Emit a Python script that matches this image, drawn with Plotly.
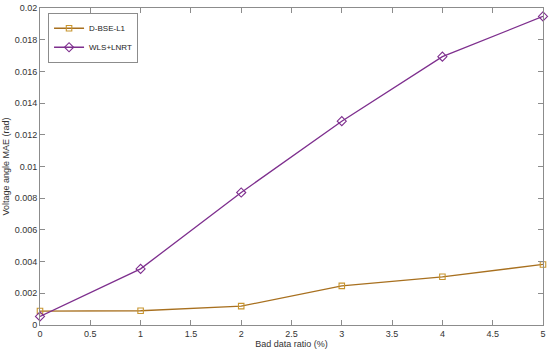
import plotly.graph_objects as go

x_vals = [0, 1, 2, 3, 4, 5]
dbse_l1 = [0.00088, 0.00090, 0.00119, 0.00247, 0.00304, 0.00382]
wls_lnrt = [0.00054, 0.00354, 0.00836, 0.01286, 0.01693, 0.01947]
x_ticks = [0, 0.5, 1, 1.5, 2, 2.5, 3, 3.5, 4, 4.5, 5]
x_tick_labels = ["0", "0.5", "1", "1.5", "2", "2.5", "3", "3.5", "4", "4.5", "5"]
y_ticks = [0, 0.002, 0.004, 0.006, 0.008, 0.01, 0.012, 0.014, 0.016, 0.018, 0.02]
y_tick_labels = ["0", "0.002", "0.004", "0.006", "0.008", "0.01", "0.012", "0.014", "0.016", "0.018", "0.02"]

fig = go.Figure()
fig.add_trace(go.Scatter(
    x=x_vals, y=dbse_l1, name="D-BSE-L1", mode="lines+markers",
    line=dict(color="#A8701F", width=1.3),
    marker=dict(symbol="square-open", size=5.5, color="#C8952E", line=dict(width=1.1)),
    cliponaxis=False,
))
fig.add_trace(go.Scatter(
    x=x_vals, y=wls_lnrt, name="WLS+LNRT", mode="lines+markers",
    line=dict(color="#7E2F8E", width=1.3),
    marker=dict(symbol="diamond-open", size=7, color="#7E2F8E", line=dict(width=1.1)),
    cliponaxis=False,
))

axis_common = dict(
    showline=True, linecolor="#8c8c8c", linewidth=1, mirror="ticks",
    ticks="inside", ticklen=5, tickcolor="#8c8c8c", tickwidth=1,
    showgrid=False, zeroline=False, automargin=False,
    tickfont=dict(family="Liberation Sans, Arial", size=9, color="#333333"),
)

fig.update_layout(
    width=550, height=352,
    margin=dict(l=40, r=7, t=8, b=27),
    paper_bgcolor="white", plot_bgcolor="white",
    font=dict(family="Liberation Sans, Arial", size=9, color="#333333"),
    xaxis=dict(range=[0, 5.0001], tickvals=x_ticks, ticktext=x_tick_labels,
               title=dict(text="Bad data ratio (%)", standoff=2, font=dict(size=9)),
               **axis_common),
    yaxis=dict(range=[0, 0.02], tickvals=y_ticks, ticktext=y_tick_labels,
               title=dict(text="Voltage angle MAE (rad)", standoff=3, font=dict(size=9)),
               **axis_common),
    showlegend=True,
    legend=dict(x=0.016, y=0.985, xanchor="left", yanchor="top",
                bgcolor="white", bordercolor="#8c8c8c", borderwidth=1,
                font=dict(size=8, color="#222222"), tracegroupgap=0,
                itemwidth=30),
)

fig.write_html("out.html", config={"displayModeBar": False},
               post_script="document.body.style.margin='0';")
